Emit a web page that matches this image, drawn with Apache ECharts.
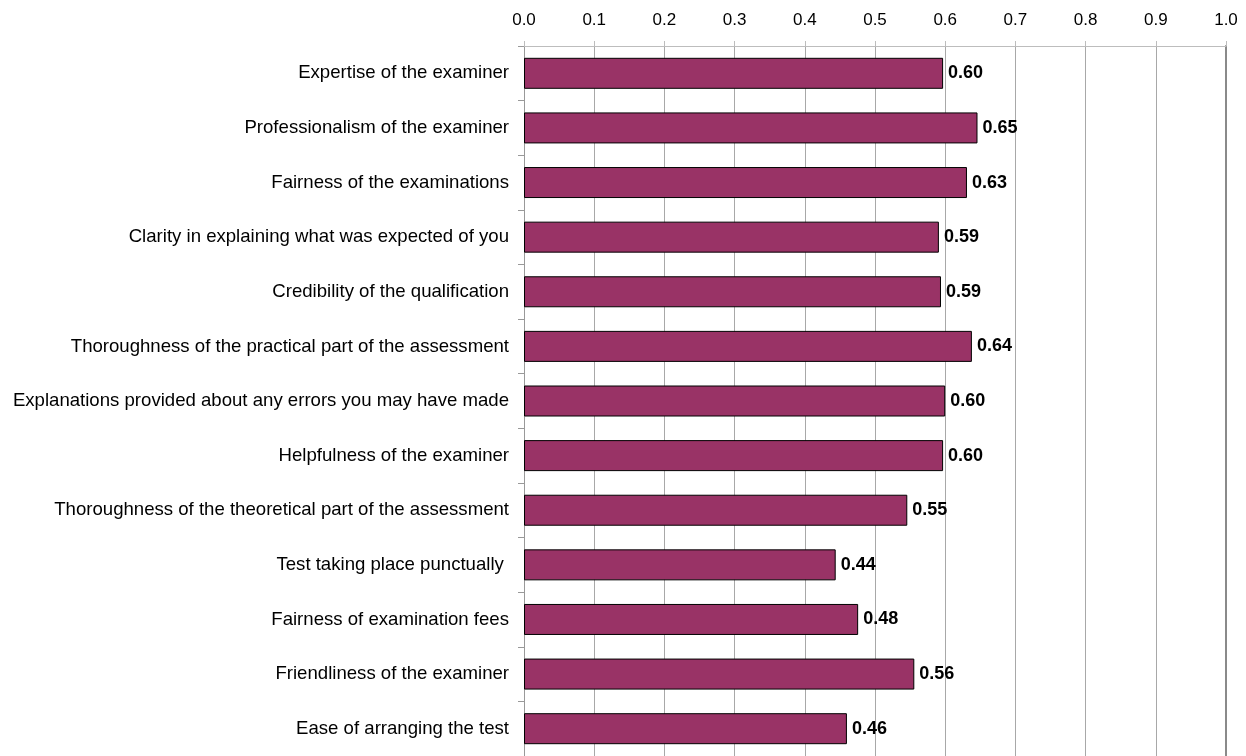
<!DOCTYPE html>
<html>
<head>
<meta charset="utf-8">
<script src="https://cdn.jsdelivr.net/npm/echarts@6/dist/echarts.min.js"></script>
<style>
  html, body { margin: 0; padding: 0; background: #fff; }
  #chart { width: 1246px; height: 756px; }
</style>
</head>
<body>
<div id="chart"></div>
<script>
// Satisfaction items, listed top to bottom
const categories = [
  'Expertise of the examiner',
  'Professionalism of the examiner',
  'Fairness of the examinations',
  'Clarity in explaining what was expected of you',
  'Credibility of the qualification',
  'Thoroughness of the practical part of the assessment',
  'Explanations provided about any errors you may have made',
  'Helpfulness of the examiner',
  'Thoroughness of the theoretical part of the assessment',
  'Test taking place punctually ',
  'Fairness of examination fees',
  'Friendliness of the examiner',
  'Ease of arranging the test'
];

// Mean score per item
const scores = [0.597, 0.646, 0.631, 0.591, 0.594, 0.638, 0.600, 0.597, 0.546, 0.444, 0.476, 0.556, 0.460];

// Top axis ticks
const xMin = 0, xMax = 1, xStep = 0.1;

const FONT = '"Liberation Sans", Arial, sans-serif';

const chart = echarts.init(document.getElementById('chart'), null, { renderer: 'canvas' });

chart.setOption({
  animation: false,
  backgroundColor: '#ffffff',
  grid: { left: 524, top: 46, width: 702, height: 716, containLabel: false },
  xAxis: {
    type: 'value',
    position: 'top',
    min: xMin,
    max: xMax,
    interval: xStep,
    axisLine: { show: true, lineStyle: { color: '#bdbdbd', width: 1 } },
    axisTick: { show: true, length: 5, lineStyle: { color: '#bdbdbd' } },
    axisLabel: {
      margin: 17,
      color: '#000',
      fontFamily: FONT,
      fontSize: 17,
      formatter: v => v.toFixed(1)
    },
    splitLine: { show: true, lineStyle: { color: '#a8a8a8', width: 1 } }
  },
  yAxis: [
    {
      type: 'category',
      data: categories,
      inverse: true,
      axisLine: { show: true, lineStyle: { color: '#999', width: 1 } },
      axisTick: { show: true, length: 6, lineStyle: { color: '#999' } },
      axisLabel: {
        margin: 15,
        color: '#000',
        fontFamily: FONT,
        fontSize: 18.6
      },
      splitLine: { show: false }
    },
    {
      type: 'category',
      data: categories,
      inverse: true,
      position: 'right',
      axisLine: { show: true, lineStyle: { color: '#8a8a8a', width: 2 } },
      axisTick: { show: false },
      axisLabel: { show: false },
      splitLine: { show: false }
    }
  ],
  series: [
    {
      type: 'bar',
      data: scores,
      barWidth: 31,
      itemStyle: { color: '#993366', borderColor: '#000', borderWidth: 1 },
      label: {
        show: true,
        position: 'right',
        distance: 5,
        color: '#000',
        fontFamily: FONT,
        fontSize: 18,
        fontWeight: 'bold',
        formatter: p => p.value.toFixed(2)
      }
    }
  ]
});
</script>
</body>
</html>
